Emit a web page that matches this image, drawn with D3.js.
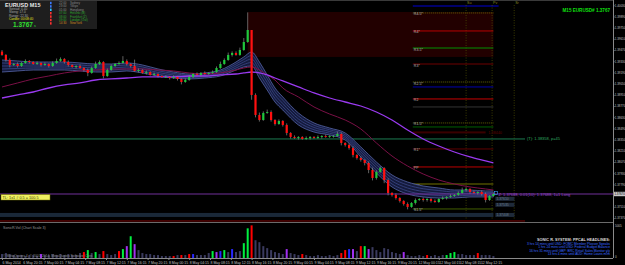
<!DOCTYPE html>
<html>
<head>
<meta charset="utf-8">
<script src="https://cdn.jsdelivr.net/npm/d3@7/dist/d3.min.js"></script>
<style>
html, body { margin: 0; padding: 0; background: #000; }
svg { display: block; font-family: "Liberation Sans", Arial, sans-serif; }
</style>
</head>
<body>
<svg id="chart" width="625" height="265"></svg>
<script>
// ---- data (EURUSD M15, one candle every 3 bars) ----
const firstOpen = 1.3945;
const closes = [
1.39408,1.39345,1.39283,1.39295,1.3927,1.39308,1.39333,1.3932,1.39295,1.39308,
1.39283,1.39295,1.3927,1.39308,1.39333,1.39358,1.3932,1.39283,1.39258,1.3927,
1.39245,1.3922,1.39183,1.39245,1.39295,1.3932,1.39145,1.3922,1.3927,1.39295,
1.39308,1.39333,1.39295,1.3927,1.39208,1.3922,1.39183,1.39195,1.39158,1.3917,
1.39145,1.39133,1.39133,1.3912,1.39133,1.39108,1.3907,1.39095,1.39133,1.3917,
1.39158,1.39183,1.3917,1.39183,1.39195,1.39245,1.39295,1.39345,1.39408,1.39433,
1.39408,1.3947,1.3957,1.3972,1.38908,1.38658,1.38595,1.38683,1.38695,1.38595,
1.38545,1.38583,1.38533,1.38433,1.38383,1.3837,1.38383,1.38358,1.3837,1.38383,
1.3837,1.38383,1.38395,1.38383,1.38395,1.38395,1.3842,1.38308,1.38283,1.38245,
1.38158,1.3812,1.38095,1.38058,1.3797,1.3787,1.37945,1.37995,1.37845,1.37683,
1.37658,1.3762,1.37583,1.37545,1.37508,1.37558,1.37595,1.37608,1.37595,1.37608,
1.37583,1.3757,1.37608,1.3762,1.37633,1.37645,1.37658,1.37683,1.3772,1.37733,
1.37695,1.37683,1.37695,1.3767,1.37595,1.37645,1.3767];
// wicks in pips beyond the body
const hiWick = [
2,1,2,1,2,1,2,1,1,2, 1,2,1,2,3,2,1,2,1,1, 2,1,2,2,3,2,1,2,2,1,
2,6,2,1,8,2,1,2,1,2, 1,1,2,1,2,1,1,2,2,1, 2,1,2,1,2,2,3,2,3,2,
2,3,5,22,0,2,3,2,3,2, 1,2,1,2,1,2,1,1,2,1, 1,2,1,2,1,1,3,2,1,2,
2,1,2,1,2,3,2,2,1,2, 1,2,1,1,2,1,2,1,2,1, 1,2,1,2,1,2,1,2,3,2,
1,2,1,2,2,1,2];
const loWick = [
1,2,3,1,2,1,1,2,1,1, 2,1,2,1,1,1,2,2,1,2, 1,2,4,1,1,1,3,1,1,1,
1,1,2,2,1,2,1,2,1,1, 2,1,1,2,1,2,3,1,1,1, 1,2,1,1,1,1,1,1,1,2,
1,1,1,1,6,3,2,1,1,2, 2,1,2,3,2,1,2,1,1,2, 1,1,2,1,1,2,1,3,2,2,
3,2,2,3,4,3,2,1,4,3, 2,2,2,2,3,1,2,1,2,2, 2,1,1,1,2,1,1,1,1,2,
2,1,2,2,3,1,1];
const volumes = [
600,750,600,450,450,450,300,450,450,300,
600,450,450,600,450,600,450,600,450,450,
750,900,1200,750,900,600,1050,600,450,600,
1050,1350,1800,3300,2100,1200,750,600,600,450,
450,300,300,300,300,450,450,450,600,600,
450,450,450,750,1050,900,1050,1200,900,1350,
900,1050,2250,4500,4950,2700,2400,1800,1500,1200,
900,750,600,1350,750,600,450,600,450,300,
300,450,300,300,450,300,450,750,1200,1350,
1350,1050,1800,1800,1350,1650,1200,900,1500,1350,
900,750,600,900,450,300,300,450,300,450,
300,450,300,450,450,750,900,600,600,450,
450,450,750,450,450,450,300];
const volKind = "ssssssssss" + "msssssssss" + "srgsgsrsss" + "rgmgmsssss" + "ssssrsrsrb" +
                "ssssgmbgsb" + "ssggrsssss" + "sssmsssrss" + "sssssssrrb" + "msrgmsssss" +
                "sssmsssssr" + "ssssgggsss" + "ssrssss";

// moving averages, sampled at candle indices
const maIdx = [0,4,8,12,16,20,24,28,32,36,40,44,48,52,56,60,62,64,66,68,70,72,76,80,84,88,92,96,100,104,108,112,116,120,124,126];
const ribbonTop = [1.39345,1.39333,1.3932,1.3932,1.3932,1.39308,1.39295,1.39295,1.39308,1.39283,1.39233,1.39195,1.3917,1.39183,1.3922,1.3932,1.39383,1.39445,1.3932,1.39158,1.38995,1.38883,1.38683,1.38558,1.38495,1.38433,1.38258,1.3807,1.37908,1.3782,1.3777,1.37745,1.3772,1.3772,1.37708,1.37708];
const ribbonBot = [1.39195,1.39208,1.3922,1.3922,1.3922,1.39208,1.39195,1.39195,1.39208,1.39183,1.39145,1.3912,1.39108,1.3912,1.39145,1.3922,1.39258,1.3927,1.3912,1.3897,1.3882,1.3872,1.38533,1.38445,1.38408,1.38345,1.38133,1.37933,1.37758,1.3767,1.37633,1.3762,1.3762,1.37633,1.37633,1.37633];
const maMid = [1.39008,1.39058,1.39108,1.39145,1.39183,1.39208,1.3922,1.39233,1.39233,1.39233,1.3922,1.39208,1.39183,1.3917,1.39183,1.3922,1.39245,1.39258,1.3922,1.39158,1.39095,1.38995,1.38883,1.38758,1.3867,1.38595,1.38483,1.38308,1.38145,1.3802,1.3792,1.37845,1.37795,1.37758,1.37733,1.3772];
const maSlow = [1.3887,1.38908,1.38945,1.38995,1.39033,1.39058,1.39095,1.39108,1.3912,1.39133,1.39133,1.39133,1.39145,1.39145,1.39158,1.3917,1.39183,1.39195,1.39183,1.39158,1.3912,1.39083,1.39008,1.38933,1.3887,1.3882,1.3877,1.38695,1.38595,1.3847,1.38358,1.3827,1.38195,1.38133,1.38083,1.38058];

// pivot levels
const levelPrices = [1.39933,1.39708,1.39495,1.39295,1.3907,1.39008,1.38858,1.38758,1.38558,1.38508,1.38233,1.38008,1.37795,1.37483];
const levelNames  = ["R4.5*","R4*","R3.5*","R3*","R2.5*","","R2","","R1.5*","","R1*","PP","S1*","S1.5*"];
const levelColors = ["#6e6e00","#c80000","#00a000","#7a0000","#6e6e00","#0000c0","#e00000","#3a3a3a","#6e6e00","#006a00","#6a0000","#d00000","#808000","#4a6a00"];

const lastPrice = 1.3767;
const trendPrice = 1.38358;
const zonePrice = 1.3844;
const boxTop = 1.39945, boxBottom = 1.39383;
const bandTop = 1.37433, bandBottom = 1.37383;
const redLinePrice = 1.37333;

const priceTicks = [1.40030,1.39890,1.39750,1.39610,1.39470,1.39330,1.39190,1.39050,1.38910,1.38770,
                    1.38630,1.38490,1.38350,1.38210,1.38070,1.37930,1.37790,1.37510,1.37370];
const timeLabels = ["6 May 2014","6 May 20:15","7 May 00:15","7 May 04:15","7 May 08:15","7 May 12:15",
  "7 May 16:15","7 May 20:15","8 May 00:15","8 May 04:15","8 May 08:15","8 May 12:15","8 May 16:15",
  "8 May 20:15","9 May 00:15","9 May 04:15","9 May 08:15","9 May 12:15","9 May 16:15","9 May 20:15",
  "12 May 00:15","12 May 04:15","12 May 08:15","12 May 12:15"];

const sessions = ["Sydney","Tokyo","Hongkong","Helsinki (B)","Frankfurt (Z)","London (Out)","NewYork"];
const sessionTimes = ["22:00","23:00","01:00","07:00","08:00","09:00","14:30"];
const headlines = ["3 hrs 14 mins until USD: FOMC Member Plosser Speaks",
                   "1 hrs 24 mins until USD: Federal Budget Balance",
                   "16 hrs 31 mins until GBP: BRC Retail Sales Monitor y/y",
                   "13 hrs 4 mins until AUD: Home Loans m/m"];

// ---- layout ----
const svg = d3.select("#chart");
const barsPerCandle = 3;
const plotRight = 613, mainBottom = 222, volTop = 225, volBottom = 258;

const x = d3.scaleLinear().domain([0, 378]).range([2, 493.4]);
const y = d3.scaleLinear().domain([1.3732, 1.40095]).range([mainBottom, 0]);
const yv = d3.scaleLinear().domain([0, 5005]).range([volBottom, volTop]);
const cx = i => x(i * barsPerCandle);

svg.append("rect").attr("width", 625).attr("height", 265).attr("fill", "#000");
svg.append("line").attr("x1", 0).attr("x2", plotRight).attr("y1", 0.5).attr("y2", 0.5).attr("stroke", "#3a3a3a");

// dark red box after the spike
svg.append("rect")
  .attr("x", cx(63)).attr("y", y(boxTop))
  .attr("width", cx(126) - cx(63)).attr("height", y(boxBottom) - y(boxTop))
  .attr("fill", "#220000");

// navy strip on top
svg.append("rect").attr("x", x(316)).attr("y", 5).attr("width", x(382) - x(316)).attr("height", 2).attr("fill", "#00006a");

// dotted vertical period lines
[357, 377, 394].forEach(i => {
  svg.append("line").attr("x1", x(i)).attr("x2", x(i)).attr("y1", 5).attr("y2", mainBottom - 3)
    .attr("stroke", "#4a4a00").attr("stroke-width", 0.8).attr("stroke-dasharray", "1,1.5");
});
svg.selectAll(".colhead").data(["Su", "Pv", "Sr"]).enter().append("text")
  .attr("x", (d, i) => x([357, 377, 394][i]) + 1).attr("y", 4)
  .attr("fill", "#8a8a20").style("font-size", "3.6px").text(d => d);

// pivot levels
const lv = svg.append("g");
levelPrices.forEach((p, i) => {
  lv.append("line").attr("x1", x(316)).attr("x2", cx(126)).attr("y1", y(p)).attr("y2", y(p))
    .attr("stroke", levelColors[i]).attr("stroke-width", 0.9)
    .attr("stroke-dasharray", levelColors[i] === "#6e6e00" ? "1,1" : null);
  if (levelNames[i]) {
    lv.append("text").attr("x", x(316) + 1).attr("y", y(p) + 2.5)
      .attr("fill", "#b8b8b8").style("font-size", "3.6px").text(levelNames[i]);
  }
});

// dim red zone
svg.append("rect").attr("x", x(316)).attr("y", y(zonePrice) - 1).attr("width", x(372) - x(316)).attr("height", 2)
  .attr("fill", "#3a0000");
svg.append("text").attr("x", x(374)).attr("y", y(zonePrice) + 1.5).attr("fill", "#600000")
  .style("font-size", "3.8px").text(d3.format(".5f")(zonePrice));

// trend line (teal)
svg.append("line").attr("x1", 0).attr("x2", 525).attr("y1", y(trendPrice)).attr("y2", y(trendPrice))
  .attr("stroke", "#1f8a5a").attr("stroke-width", 0.9);
svg.append("text").attr("x", 527).attr("y", y(trendPrice) + 1.5).attr("fill", "#2faa60")
  .style("font-size", "4px").text("(T): " + d3.format(".5f")(trendPrice) + ", p=45");

// slate band and red line near the bottom
svg.append("rect").attr("x", 0).attr("y", y(bandTop)).attr("width", cx(126)).attr("height", y(bandBottom) - y(bandTop))
  .attr("fill", "#1a2838");
svg.append("line").attr("x1", 0).attr("x2", 525).attr("y1", y(redLinePrice)).attr("y2", y(redLinePrice))
  .attr("stroke", "#7a0000").attr("stroke-width", 1);

// ribbon
const ribbonPts = maIdx.map((k, i) => ({ k, t: ribbonTop[i], b: ribbonBot[i] }));
svg.append("path").datum(ribbonPts)
  .attr("d", d3.area().x(d => cx(d.k)).y0(d => y(d.b)).y1(d => y(d.t)).curve(d3.curveMonotoneX))
  .attr("fill", "#141a3c");
[0, 0.25, 0.5, 0.75, 1].forEach((f, n) => {
  svg.append("path").datum(ribbonPts)
    .attr("d", d3.line().x(d => cx(d.k)).y(d => y(d.t + f * (d.b - d.t))).curve(d3.curveMonotoneX))
    .attr("fill", "none").attr("stroke", n === 0 || n === 4 ? "#5664a8" : "#3a4686").attr("stroke-width", 0.8);
});

// slower MAs
svg.append("path").datum(maIdx.map((k, i) => [k, maMid[i]]))
  .attr("d", d3.line().x(d => cx(d[0])).y(d => y(d[1])).curve(d3.curveMonotoneX))
  .attr("fill", "none").attr("stroke", "#7a1046").attr("stroke-width", 1);
svg.append("path").datum(maIdx.map((k, i) => [k, maSlow[i]]))
  .attr("d", d3.line().x(d => cx(d[0])).y(d => y(d[1])).curve(d3.curveMonotoneX))
  .attr("fill", "none").attr("stroke", "#9a3af0").attr("stroke-width", 1.3);

// last price line
svg.append("line").attr("x1", 0).attr("x2", plotRight).attr("y1", y(lastPrice)).attr("y2", y(lastPrice))
  .attr("stroke", "#70309a").attr("stroke-width", 1.2);

// candles
const candles = closes.map((c, i) => {
  const o = i === 0 ? firstOpen : closes[i - 1];
  return { i, o, c, h: Math.max(o, c) + hiWick[i] * 0.0001, l: Math.min(o, c) - loWick[i] * 0.0001 };
});
const cg = svg.append("g");
cg.selectAll("line").data(candles).enter().append("line")
  .attr("x1", d => cx(d.i)).attr("x2", d => cx(d.i))
  .attr("y1", d => y(d.h)).attr("y2", d => y(d.l))
  .attr("stroke", "#8a8a8a").attr("stroke-width", 0.7);
cg.selectAll("rect").data(candles).enter().append("rect")
  .attr("x", d => cx(d.i) - 1.1).attr("width", 2.2)
  .attr("y", d => y(Math.max(d.o, d.c)))
  .attr("height", d => Math.max(0.8, y(Math.min(d.o, d.c)) - y(Math.max(d.o, d.c))))
  .attr("fill", d => d.c >= d.o ? "#1fc83c" : "#ff1010");

// labels at the last candle
svg.append("rect").attr("x", cx(126) + 1).attr("y", y(lastPrice) - 2.5).attr("width", 3).attr("height", 3)
  .attr("fill", "none").attr("stroke", "#40a0ff").attr("stroke-width", 0.6);
svg.append("text").attr("x", cx(126) + 5).attr("y", y(lastPrice) + 1.5).attr("fill", "#9a48d0")
  .style("font-size", "4px").text("Z: 1.37688, 0.01(10): 1.37688, 1=1 Long");
[1.3761, 1.37535, 1.37408].forEach(p => {
  svg.append("rect").attr("x", cx(126) + 2).attr("y", y(p) - 2).attr("width", 19).attr("height", 4).attr("fill", "#1e2a3a");
  svg.append("text").attr("x", cx(126) + 3).attr("y", y(p) + 1.4).attr("fill", "#6a7a8a")
    .style("font-size", "3.4px").text(d3.format(".5f")(p));
});

// yellow label on the left
svg.append("rect").attr("x", 1).attr("y", y(lastPrice) + 0.5).attr("width", 49).attr("height", 5.5)
  .attr("fill", "#f0f060").attr("stroke", "#707000").attr("stroke-width", 0.5);
svg.append("text").attr("x", 2.5).attr("y", y(lastPrice) + 4.6).attr("fill", "#404000")
  .style("font-size", "3.8px").text("TL: 1x1 # 0.5 = 100.5");

// separator and volume window
svg.append("line").attr("x1", 0).attr("x2", plotRight).attr("y1", mainBottom + 0.5).attr("y2", mainBottom + 0.5).attr("stroke", "#6a6a6a");
svg.append("text").attr("x", 3).attr("y", 229).attr("fill", "#9a9a9a").style("font-size", "3.6px").text("SonicR.Vol (Chart Scale 3)");
const volColors = { s: "#3a3a5e", r: "#ff0000", g: "#00f040", b: "#2828ff", m: "#a030f0" };
svg.append("g").selectAll("rect").data(volumes).enter().append("rect")
  .attr("x", (d, i) => cx(i) - 1).attr("width", 2)
  .attr("y", d => yv(d)).attr("height", d => volBottom - yv(d))
  .attr("fill", (d, i) => volColors[volKind[i]]);
svg.append("text").attr("x", 3).attr("y", 256.5).attr("fill", "#8a8a8a").style("font-size", "3.4px")
  .text("© MetaQuotes 4, © 2001-2014, MetaQuotes Software Corp.");

svg.append("text").attr("x", 610).attr("y", 240.5).attr("text-anchor", "end").attr("fill", "#d8d8d8")
  .style("font-size", "3.8px").style("font-weight", "bold").text("SONIC R. SYSTEM: PPCAL HEADLINES:");
svg.selectAll(".news").data(headlines).enter().append("text")
  .attr("x", 610).attr("y", (d, i) => 244.5 + i * 3.6).attr("text-anchor", "end")
  .attr("fill", "#3a6aff").style("font-size", "3.3px").text(d => d);

// price axis
const pa = svg.append("g").attr("transform", `translate(${plotRight},0)`)
  .call(d3.axisRight(y).tickValues(priceTicks).tickSize(1.5).tickFormat(d3.format(".5f")));
pa.select(".domain").attr("stroke", "#8a8a8a").attr("d", `M0.5,0V${volBottom}`);
pa.selectAll("line").attr("stroke", "#8a8a8a");
pa.selectAll("text").attr("fill", "#c0c0c0").attr("x", 1.8).style("font-size", "2.9px");
svg.append("rect").attr("x", plotRight + 1).attr("y", y(lastPrice) - 2.2).attr("width", 11).attr("height", 4.4).attr("fill", "#c8c8c8");
svg.append("text").attr("x", plotRight + 1.4).attr("y", y(lastPrice) + 1.1).attr("fill", "#000")
  .style("font-size", "2.9px").text(d3.format(".5f")(lastPrice));
svg.append("text").attr("x", plotRight + 2).attr("y", volTop + 1.5).attr("fill", "#c0c0c0").style("font-size", "3px").text("5005");
svg.append("text").attr("x", plotRight + 2).attr("y", volBottom).attr("fill", "#c0c0c0").style("font-size", "3px").text("0");

// time axis
const ta = svg.append("g").attr("transform", `translate(0,${volBottom})`)
  .call(d3.axisBottom(x).tickValues(timeLabels.map((d, i) => i * 16)).tickSize(2).tickFormat((d, i) => timeLabels[i]));
ta.select(".domain").attr("stroke", "#8a8a8a").attr("d", `M0,0.5H${plotRight}`);
ta.selectAll("line").attr("stroke", "#8a8a8a");
ta.selectAll("text").attr("fill", "#c0c0c0").attr("text-anchor", "start").attr("dy", "0").attr("y", 5.5).style("font-size", "3.5px");

// info panel (top left)
const ip = svg.append("g");
ip.append("rect").attr("x", 0).attr("y", 1).attr("width", 97).attr("height", 28).attr("fill", "#1e1e1e");
ip.append("text").attr("x", 5).attr("y", 6.5).attr("fill", "#e8e8e8").style("font-size", "5.5px").style("font-weight", "bold").text("EURUSD  M15");
["Spread:   0.40", "Swing:   17.0", "Range:   22.30"].forEach((t, i) => {
  ip.append("text").attr("x", 9).attr("y", 10 + i * 3.4).attr("fill", "#a8a8a8").style("font-size", "3.2px").text(t);
});
ip.append("text").attr("x", 9).attr("y", 20.3).attr("fill", "#e0e020").style("font-size", "3.2px").text("Candle:  00:08:40");
ip.append("text").attr("x", 13).attr("y", 27).attr("fill", "#30e030").style("font-size", "6.5px").style("font-weight", "bold").text("1.3767");
ip.append("text").attr("x", 34).attr("y", 27).attr("fill", "#30e030").style("font-size", "3.5px").text("s");
["#3a7aff", "#3a7aff", "#30c0ff", "#ff3030", "#ff3030", "#ff3030", "#ff3030"].forEach((c, i) => {
  ip.append("rect").attr("x", 50).attr("y", 1.8 + i * 3.4).attr("width", 1.6).attr("height", 2.4).attr("fill", c);
});
const sessColors = ["#8a8a8a", "#8a8a8a", "#8a8a8a", "#2ea82e", "#2ea82e", "#2ea82e", "#d08a20"];
sessions.forEach((s, i) => {
  ip.append("text").attr("x", 59).attr("y", 4 + i * 3.4).attr("fill", sessColors[i]).style("font-size", "3px").text(sessionTimes[i]);
  ip.append("text").attr("x", 70).attr("y", 4 + i * 3.4).attr("fill", sessColors[i]).style("font-size", "3px").text(s);
});

// top right symbol text
svg.append("text").attr("x", 610).attr("y", 11.5).attr("text-anchor", "end").attr("fill", "#10e010")
  .style("font-size", "4.6px").style("font-weight", "bold").text("M15 EURUSD# 1.3767");
</script>
</body>
</html>
